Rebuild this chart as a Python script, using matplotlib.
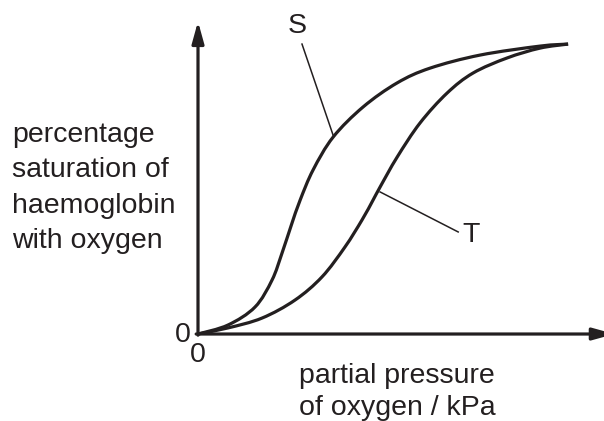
import matplotlib
matplotlib.use("Agg")
import matplotlib.pyplot as plt
from matplotlib.path import Path
from matplotlib.patches import PathPatch

plt.rcParams["font.family"] = ["Liberation Sans", "DejaVu Sans"]

# curve S (oxygen partial pressure, % saturation)
s_x = [0, 0.81, 1.54, 2.0, 2.27, 2.52, 2.76, 3.11, 3.65, 4.46, 5.38, 6.27, 7.62, 9.24, 10]
s_y = [0, 3.1, 9.3, 18.6, 27.9, 37.5, 46.2, 56.6, 67.9, 78.3, 86.6, 91.7, 96.2, 99.3, 100]

# curve T
t_x = [0, 0.81, 1.73, 2.62, 3.35, 3.97, 4.43, 4.73, 4.92, 5.38, 6.0, 6.73, 7.43, 8.35, 9.24, 10]
t_y = [0, 2.1, 5.5, 11.7, 19.7, 30.0, 39.3, 46.2, 50.7, 61.0, 72.8, 83.1, 90.0, 95.2, 98.6, 100]

ylabel_lines = ["percentage", "saturation of", "haemoglobin", "with oxygen"]
xlabel_lines = ["partial pressure", "of oxygen / kPa"]

ink = "#231f20"
fs = 20.5


def smooth_path(xs, ys):
    # catmull-rom through the points, drawn as cubic bezier segments
    pts = list(zip(xs, ys))
    verts = [pts[0]]
    codes = [Path.MOVETO]
    n = len(pts)
    for i in range(n - 1):
        p0 = pts[i - 1] if i > 0 else pts[i]
        p1 = pts[i]
        p2 = pts[i + 1]
        p3 = pts[i + 2] if i + 2 < n else pts[i + 1]
        c1 = (p1[0] + (p2[0] - p0[0]) / 6, p1[1] + (p2[1] - p0[1]) / 6)
        c2 = (p2[0] - (p3[0] - p1[0]) / 6, p2[1] - (p3[1] - p1[1]) / 6)
        verts += [c1, c2, p2]
        codes += [Path.CURVE4] * 3
    return Path(verts, codes)


fig = plt.figure(figsize=(6.04, 4.21), dpi=100)
ax = fig.add_axes([0, 0, 1, 1])
ax.set_xlim(-5.35, 10.97)
ax.set_ylim(-30.0, 115.2)
ax.axis("off")

for xs, ys in [(s_x, s_y), (t_x, t_y)]:
    ax.add_patch(PathPatch(smooth_path(xs, ys), facecolor="none", edgecolor=ink,
                           lw=2.3, capstyle="butt", joinstyle="round"))

# axes with arrow heads
arrow = dict(arrowstyle="-|>,head_length=0.65,head_width=0.18", color=ink, lw=2.3,
             shrinkA=0, shrinkB=0, mutation_scale=20)
ax.annotate("", xy=(0, 107.8), xytext=(0, -0.4), arrowprops=arrow,
            annotation_clip=False)
ax.annotate("", xy=(11.25, 0), xytext=(-0.05, 0), arrowprops=arrow,
            annotation_clip=False)

# leader lines and labels
ax.plot([2.81, 3.65], [100, 68.6], color=ink, lw=1.1)
ax.plot([4.92, 7.03], [49.0, 35.2], color=ink, lw=1.1)
ax.text(2.68, 106.2, "S", fontsize=fs, ha="center", va="center", color=ink)
ax.text(7.38, 34.1, "T", fontsize=fs, ha="center", va="center", color=ink)

ax.text(-0.41, -0.3, "0", fontsize=fs, ha="center", va="center", color=ink)
ax.text(0, -7.2, "0", fontsize=fs, ha="center", va="center", color=ink)

for line, y in zip(ylabel_lines, [66.2, 54.1, 41.7, 29.7]):
    ax.text(-5.03, y, line, fontsize=fs, ha="left", va="baseline", color=ink)

for line, y in zip(xlabel_lines, [-16.9, -27.9]):
    ax.text(5.38, y, line, fontsize=fs, ha="center", va="baseline", color=ink)

fig.savefig("out.png", dpi=100)
